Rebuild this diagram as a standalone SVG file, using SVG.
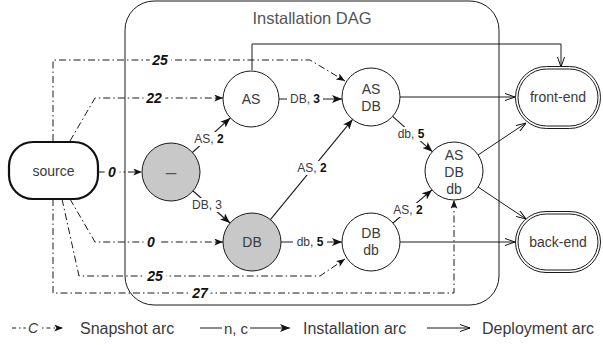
<svg xmlns="http://www.w3.org/2000/svg" width="603" height="345" viewBox="0 0 603 345">
<style>
text{font-family:"Liberation Sans",Arial,sans-serif;fill:#3a3a3a;}
.nt{font-size:14px;text-anchor:middle;}
.lbl{font-size:12px;text-anchor:middle;dominant-baseline:central;}
.bg{fill:#fff;stroke:none;}
.num{font-size:14px;font-weight:bold;font-style:italic;fill:#111;text-anchor:middle;dominant-baseline:central;stroke:#fff;stroke-width:8px;stroke-linejoin:round;paint-order:stroke;}
.b{font-weight:bold;fill:#111;}
.inst{fill:none;stroke:#1a1a1a;stroke-width:1.1;marker-end:url(#af);}
.dep{fill:none;stroke:#1a1a1a;stroke-width:1;marker-end:url(#ao);}
.snap{fill:none;stroke:#1a1a1a;stroke-width:1;stroke-dasharray:7 3 1.5 3;marker-end:url(#as);}
.circ{fill:#fff;stroke:#1a1a1a;stroke-width:1;}
.gray{fill:#c8c8c8;}
.dbl{fill:#fff;stroke:#1a1a1a;stroke-width:1;}
.leg{font-size:16px;}
</style>
<defs>
<marker id="af" viewBox="0 0 10 8" refX="10" refY="4" markerWidth="10" markerHeight="8" markerUnits="userSpaceOnUse" orient="auto"><path d="M0,0 L10,4 L0,8 L2.5,4 z" fill="#111"/></marker>
<marker id="as" viewBox="0 0 10 8" refX="10" refY="4" markerWidth="9" markerHeight="7" markerUnits="userSpaceOnUse" orient="auto"><path d="M0,0 L10,4 L0,8 L2.5,4 z" fill="#111"/></marker>
<marker id="ao" viewBox="0 0 10 8" refX="10" refY="4" markerWidth="10" markerHeight="8" markerUnits="userSpaceOnUse" orient="auto"><path d="M0,0.5 L10,4 L0,7.5" fill="none" stroke="#111" stroke-width="1"/></marker>
</defs>
<rect width="603" height="345" fill="#fff"/>

<g id="installation-dag">
<rect x="125" y="1" width="374" height="304" rx="29" fill="none" stroke="#1a1a1a" stroke-width="1"/>
<text x="312" y="24" style="font-size:16.5px;text-anchor:middle;fill:#555">Installation DAG</text>
</g>

<g id="connectors">
<!-- deployment arcs -->
<path class="dep" d="M252,70 V44 H561 V67"/>
<path class="dep" d="M400,97 H515"/>
<path class="dep" d="M478,155 L526,123"/>
<path class="dep" d="M478,187 L526,219"/>
<path class="dep" d="M400,242 H515"/>
<!-- snapshot arcs -->
<path class="snap" d="M53,141 V60 H310 L345,81"/>
<path class="snap" d="M70,141 L95,98 H223"/>
<path class="snap" d="M99,172 H142"/>
<path class="snap" d="M70,199 L95,242 H223"/>
<path class="snap" d="M62,199 L79,276 H320 L345,259"/>
<path class="snap" d="M53,199 V293 H454 V200"/>
<!-- installation arcs -->
<path class="inst" d="M192.4,152.5 L230.3,117.9"/>
<path class="inst" d="M279,99 H342"/>
<path class="inst" d="M193,191 L230,223"/>
<path class="inst" d="M270.4,219.6 L352.6,119.4"/>
<path class="inst" d="M392.6,116.3 L432.4,151.7"/>
<path class="inst" d="M281,242 H342"/>
<path class="inst" d="M393,223 L432,189.9"/>
<!-- labels -->
<text class="num" x="160" y="60">25</text>
<text class="num" x="154" y="98">22</text>
<text class="num" x="112" y="172">0</text>
<text class="num" x="151" y="242">0</text>
<text class="num" x="155" y="276">25</text>
<text class="num" x="200" y="293">27</text>
<rect class="bg" x="192" y="132" width="34" height="14"/>
<text class="lbl" x="209" y="139">AS, <tspan class="b">2</tspan></text>
<rect class="bg" x="287" y="92" width="36" height="14"/>
<text class="lbl" x="305" y="99">DB, <tspan class="b">3</tspan></text>
<rect class="bg" x="189" y="198" width="36" height="14"/>
<text class="lbl" x="207" y="205">DB, 3</text>
<rect class="bg" x="295" y="161" width="34" height="14"/>
<text class="lbl" x="312" y="168">AS, <tspan class="b">2</tspan></text>
<rect class="bg" x="394" y="127" width="34" height="14"/>
<text class="lbl" x="411" y="134">db, <tspan class="b">5</tspan></text>
<rect class="bg" x="293" y="235" width="34" height="14"/>
<text class="lbl" x="310" y="242">db, <tspan class="b">5</tspan></text>
<rect class="bg" x="391" y="203" width="34" height="14"/>
<text class="lbl" x="408" y="210">AS, <tspan class="b">2</tspan></text>
</g>

<g id="source">
<rect x="9" y="142" width="89" height="57" rx="24" fill="#fff" stroke="#111" stroke-width="2.2"/>
<text class="nt" x="53.5" y="176">source</text>
</g>
<g id="n-empty">
<circle class="circ gray" cx="171" cy="172" r="29"/>
<text class="nt" x="171" y="178" style="fill:#555;font-size:19px">–</text>
</g>
<g id="n-AS">
<circle class="circ" cx="251" cy="99" r="28"/>
<text class="nt" x="251" y="104">AS</text>
</g>
<g id="n-DB">
<circle class="circ gray" cx="252" cy="242" r="29"/>
<text class="nt" x="252" y="247">DB</text>
</g>
<g id="n-AS-DB">
<circle class="circ" cx="371" cy="97" r="29"/>
<text class="nt" x="371" y="94">AS</text>
<text class="nt" x="371" y="111">DB</text>
</g>
<g id="n-AS-DB-db">
<circle class="circ" cx="454" cy="171" r="29"/>
<text class="nt" x="454" y="160">AS</text>
<text class="nt" x="454" y="177">DB</text>
<text class="nt" x="454" y="194">db</text>
</g>
<g id="n-DB-db">
<circle class="circ" cx="371" cy="242" r="29"/>
<text class="nt" x="371" y="238">DB</text>
<text class="nt" x="371" y="255">db</text>
</g>
<g id="front-end">
<rect class="dbl" x="515.5" y="66.5" width="85" height="62" rx="31"/>
<rect class="dbl" x="518" y="69" width="80" height="57" rx="28.5"/>
<text class="nt" x="558" y="102">front-end</text>
</g>
<g id="back-end">
<rect class="dbl" x="515.5" y="211.5" width="85" height="61" rx="30.5"/>
<rect class="dbl" x="518" y="214" width="80" height="56" rx="28"/>
<text class="nt" x="558" y="247">back-end</text>
</g>

<g id="legend">
<path class="snap" d="M12,328 H63" style="stroke-dasharray:4 3 1.5 3"/>
<text x="33" y="328" style="font-size:14px;font-style:italic;text-anchor:middle;dominant-baseline:central;stroke:#fff;stroke-width:6px;paint-order:stroke">C</text>
<text class="leg" x="80" y="334">Snapshot arc</text>
<path class="inst" d="M200,328 H290"/>
<rect class="bg" x="222" y="320" width="28" height="16"/>
<text x="236" y="328" style="font-size:15px;text-anchor:middle;dominant-baseline:central">n, c</text>
<text class="leg" x="303" y="334">Installation arc</text>
<path class="dep" d="M427,328 H470"/>
<text class="leg" x="482" y="334">Deployment arc</text>
</g>
</svg>
